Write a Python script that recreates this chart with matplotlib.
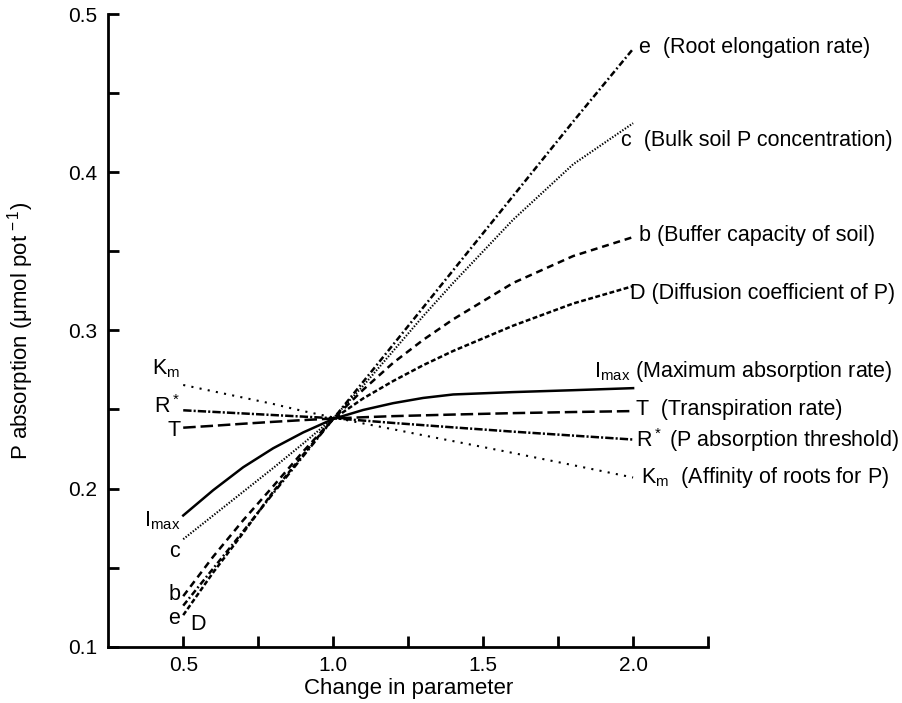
import matplotlib
matplotlib.use("Agg")
import matplotlib.pyplot as plt
from matplotlib.ticker import MultipleLocator, FixedLocator

plt.rcParams['font.family'] = ['Liberation Sans', 'DejaVu Sans']
plt.rcParams['mathtext.fontset'] = 'custom'
plt.rcParams['mathtext.rm'] = 'Liberation Sans'
plt.rcParams['mathtext.it'] = 'Liberation Sans'
plt.rcParams['mathtext.default'] = 'regular'
plt.rcParams['lines.scale_dashes'] = False

# relative change in each parameter
change = [0.5, 0.6, 0.7, 0.8, 0.9, 1.0, 1.1, 1.2, 1.3, 1.4, 1.6, 1.8, 2.0]

# P absorption (umol pot-1) for each parameter
p_e = [0.126, 0.1495, 0.173, 0.197, 0.2205, 0.244, 0.2675, 0.291, 0.3145, 0.338, 0.385, 0.432, 0.478]
p_c = [0.168, 0.183, 0.198, 0.213, 0.2285, 0.2445, 0.265, 0.287, 0.309, 0.330, 0.370, 0.405, 0.431]
p_b = [0.132, 0.157, 0.180, 0.2015, 0.2235, 0.244, 0.2625, 0.2795, 0.294, 0.307, 0.330, 0.347, 0.359]
p_D = [0.120, 0.147, 0.172, 0.198, 0.2215, 0.244, 0.257, 0.268, 0.278, 0.287, 0.303, 0.317, 0.328]
p_imax = [0.183, 0.199, 0.2135, 0.2255, 0.2355, 0.244, 0.2497, 0.254, 0.2573, 0.2595, 0.261, 0.2622, 0.2635]
p_T = [0.2385, 0.2397, 0.241, 0.2422, 0.2433, 0.2443, 0.2451, 0.2458, 0.2463, 0.2468, 0.2477, 0.2484, 0.249]
p_R = [0.2495, 0.2485, 0.2475, 0.2465, 0.2455, 0.2445, 0.243, 0.2415, 0.2401, 0.2387, 0.236, 0.2335, 0.231]
p_Km = [0.2655, 0.2615, 0.2575, 0.2535, 0.249, 0.245, 0.2412, 0.2375, 0.2337, 0.230, 0.2225, 0.2148, 0.207]

fig = plt.figure(figsize=(9.02, 7.03), dpi=100)
ax = fig.add_axes([0.12, 0.08, 0.665, 0.9])

k = 'black'
ax.plot(change, p_e, color=k, lw=1.8, dashes=(4.5, 2, 1.3, 2))
ax.plot(change, p_c, color=k, lw=1.5, dashes=(1.0, 1.2))
ax.plot(change, p_b, color=k, lw=1.8, dashes=(5, 3.5))
ax.plot(change, p_D, color=k, lw=1.8, dashes=(3.5, 1.8))
ax.plot(change, p_imax, color=k, lw=1.8)
ax.plot(change, p_T, color=k, lw=1.8, dashes=(9, 3.5))
ax.plot(change, p_R, color=k, lw=1.8, dashes=(6, 1.5, 1.5, 1.5))
ax.plot(change, p_Km, color=k, lw=1.5, dashes=(1.5, 4.5))

fs = 15.5
# labels at the left end of the curves
left = [('K$_m$', 0.276), ('R$^*$', 0.252), ('T', 0.237), ('I$_{max}$', 0.180),
        ('c', 0.160), ('b', 0.133), ('e', 0.118)]
for txt, yv in left:
    ax.text(0.49, yv, txt, ha='right', va='center', fontsize=fs)
ax.text(0.525, 0.114, 'D', ha='left', va='center', fontsize=fs)

# labels at the right end of the curves
right = [(2.02, 0.479, 'e  (Root elongation rate)'),
         (1.96, 0.420, 'c  (Bulk soil P concentration)'),
         (2.02, 0.360, 'b (Buffer capacity of soil)'),
         (1.99, 0.3236, 'D (Diffusion coefficient of P)'),
         (1.87, 0.274, 'I$_{max}$ (Maximum absorption rate)'),
         (2.01, 0.250, 'T  (Transpiration rate)'),
         (2.01, 0.231, 'R$^*$ (P absorption threshold)'),
         (2.025, 0.2067, 'K$_m$  (Affinity of roots for P)')]
for xv, yv, txt in right:
    ax.text(xv, yv, txt, ha='left', va='center', fontsize=fs, clip_on=False)

ax.set_xlim(0.25, 2.25)
ax.set_ylim(0.1, 0.5)
ax.xaxis.set_major_locator(FixedLocator([0.5, 1.0, 1.5, 2.0]))
ax.xaxis.set_minor_locator(FixedLocator([0.75, 1.25, 1.75, 2.25]))
ax.set_xticklabels(['0.5', '1.0', '1.5', '2.0'])
ax.set_yticks([0.1, 0.2, 0.3, 0.4, 0.5])
ax.set_yticklabels(['0.1', '0.2', '0.3', '0.4', '0.5'])
ax.yaxis.set_minor_locator(MultipleLocator(0.05))

for s in ['top', 'right']:
    ax.spines[s].set_visible(False)
for s in ['left', 'bottom']:
    ax.spines[s].set_linewidth(2)
ax.tick_params(which='both', direction='in', length=8, width=2, labelsize=15)
ax.tick_params(axis='x', pad=7)
ax.tick_params(axis='y', pad=8)

ax.set_xlabel('Change in parameter', fontsize=16)
ax.set_ylabel('P absorption (μmol pot$^{\\,-1}$)', fontsize=16)
ax.xaxis.set_label_coords(0.5, -0.05)
ax.yaxis.set_label_coords(-0.12, 0.5)

fig.savefig('out.png', dpi=100)
